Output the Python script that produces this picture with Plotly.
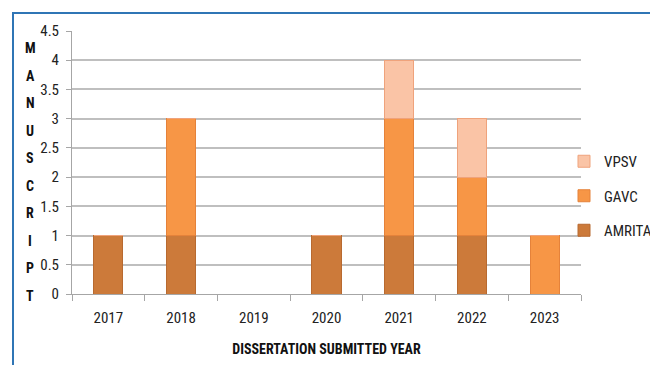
import plotly.graph_objects as go

years = ["2017", "2018", "2019", "2020", "2021", "2022", "2023"]
amrita = [1, 1, 0, 1, 1, 1, 0]
gavc = [0, 2, 0, 0, 2, 1, 1]
vpsv = [0, 0, 0, 0, 1, 1, 0]
y_letters = list("MANUSCRIPT")
y_ticks = [0, 0.5, 1, 1.5, 2, 2.5, 3, 3.5, 4, 4.5]

FONT = "Liberation Sans Narrow, Arial Narrow, Roboto Condensed, sans-serif"

fig = go.Figure()
series = [
    ("AMRITA", amrita, "#CC7A3A", "#B86A30", 3),
    ("GAVC", gavc, "#F79646", "#E5823A", 2),
    ("VPSV", vpsv, "#FAC4A6", "#EFA37C", 1),
]
for name, vals, fill, line, rank in series:
    fig.add_trace(go.Bar(
        x=years, y=vals, name=name, legendgroup=name, legendrank=rank,
        marker=dict(color=fill, line=dict(color=line, width=1)),
        width=0.4,
    ))

# plot area in pixels: x 72..581, y 31..294
L, R, T, B = 72, 581, 31, 294
W, H = R - L, B - T

def px(x):
    return (x - L) / W

def py(y):
    return (B - y) / H

fig.update_layout(
    width=650, height=365,
    margin=dict(l=L, r=650 - R, t=T, b=365 - B, autoexpand=False),
    barmode="stack",
    plot_bgcolor="white", paper_bgcolor="white",
    font=dict(family=FONT, color="#222222", size=14),
    legend=dict(
        x=px(564), y=py(145), xanchor="left", yanchor="top",
        traceorder="grouped", tracegroupgap=12,
        font=dict(size=15, family=FONT, color="#222"),
        itemwidth=30, bgcolor="rgba(0,0,0,0)",
    ),
    xaxis=dict(
        type="category", showgrid=False, showline=True, linecolor="#A6A6A6", linewidth=1,
        ticks="outside", tickson="boundaries", ticklen=6, tickcolor="#A6A6A6",
        tickfont=dict(size=15, family=FONT, color="#222"),
        ticklabelstandoff=10,
        title=dict(text="<b>DISSERTATION SUBMITTED YEAR</b>", standoff=18,
                   font=dict(size=14, family=FONT, color="#111")),
    ),
    yaxis=dict(
        range=[0, 4.5], tickvals=y_ticks, ticktext=[("%g" % v) for v in y_ticks],
        showgrid=True, gridcolor="#BFBFBF", gridwidth=1.5,
        showline=True, linecolor="#A6A6A6", linewidth=1,
        ticks="outside", ticklen=5, tickcolor="#A6A6A6",
        tickfont=dict(size=15, family=FONT, color="#222"),
        ticklabelstandoff=4,
        zeroline=False,
    ),
)

# vertical letter title
n = len(y_letters)
top_y, bot_y = 48, 296
for i, ch in enumerate(y_letters):
    yy = top_y + (bot_y - top_y) * i / (n - 1)
    fig.add_annotation(
        text="<b>%s</b>" % ch, xref="paper", yref="paper",
        x=px(30), y=py(yy), showarrow=False, xanchor="center", yanchor="middle",
        font=dict(size=14, family=FONT, color="#111"),
    )

# blue outer frame
fig.add_shape(
    type="rect", xref="paper", yref="paper",
    x0=px(13), x1=px(665), y0=py(380), y1=py(13),
    line=dict(color="#2F75B5", width=2), fillcolor="rgba(0,0,0,0)", layer="below",
)

fig.write_html("out.html")
